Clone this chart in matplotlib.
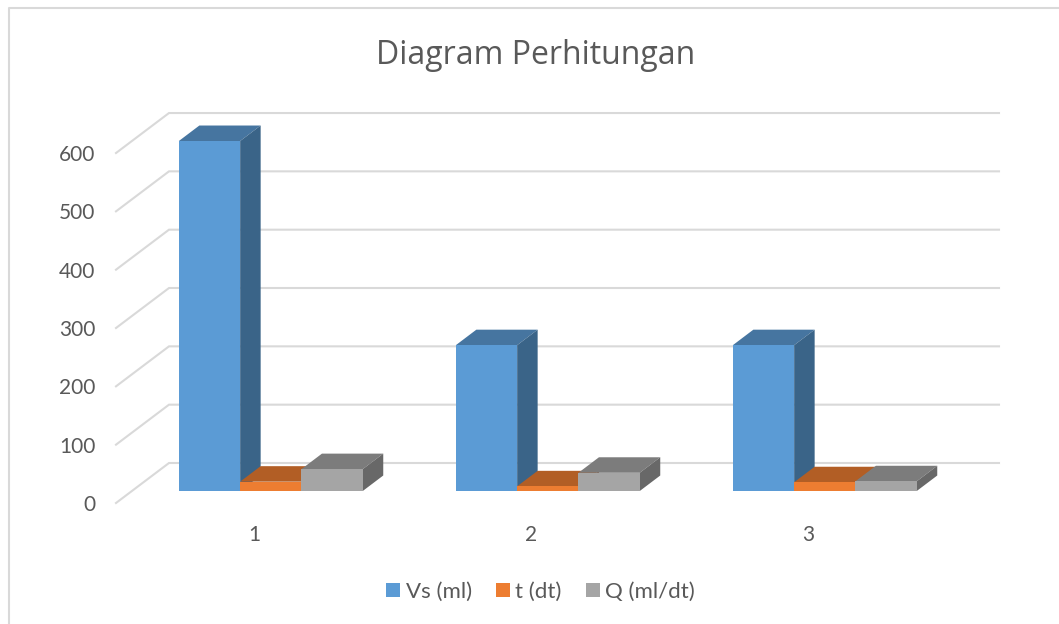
import matplotlib
matplotlib.use('Agg')
import matplotlib.pyplot as plt
from matplotlib.lines import Line2D
from matplotlib.patches import Patch, Polygon

plt.rcParams['font.family'] = ['Lato', 'DejaVu Sans']

# Data
categories = ['1', '2', '3']
vs_ml = [600, 250, 250]
t_dt = [16, 8, 15]
q_ml_dt = [37.5, 31.25, 16.67]
y_ticks = [0, 100, 200, 300, 400, 500, 600]
series_names = ['Vs (ml)', 't (dt)', 'Q (ml/dt)']

front_colors = ['#5B9BD5', '#ED7D31', '#A5A5A5']
top_colors = ['#4675A0', '#B25E25', '#7C7C7C']
side_colors = ['#3A6488', '#8E4B1F', '#686868']
grid_color = '#D9D9D9'
text_color = '#595959'

W, H = 1059, 624
fig = plt.figure(figsize=(W / 100, H / 100), dpi=100)
ax = fig.add_axes([0, 0, 1, 1])

# one category step is 277 px, one y unit is 0.5833 px
px_x = 1 / 277
px_y = 1 / 0.5833
ax.set_xlim(-270.8 * px_x, (W - 270.8) * px_x)
ax.set_ylim(-(H - 491) * px_y, 491 * px_y)
ax.axis('off')

bar_w = 61.3 * px_x
depth_x = 20.5 * px_x
depth_y = 15.5 * px_y

# walls and floor gridlines
wall_left = -101.8 * px_x
wall_right = 728.2 * px_x
front_left = -154.8 * px_x
for v in y_ticks:
    y_back = v + 28 * px_y
    y_front = v - 12 * px_y
    ax.plot([front_left, wall_left, wall_right], [y_front, y_back, y_back],
            color=grid_color, lw=1.5, zorder=1, solid_joinstyle='miter')
    ax.text(-175.3 * px_x, v - 14 * px_y, str(v), ha='right', va='center',
            fontsize=15, color=text_color)

# bars, left to right so the next one covers the side of the previous one
series = [vs_ml, t_dt, q_ml_dt]
z = 2
for i in range(len(categories)):
    for j, vals in enumerate(series):
        v = vals[i]
        x0 = i + (j - 1.5) * bar_w
        x1 = x0 + bar_w
        top = [(x0, v), (x0 + depth_x, v + depth_y), (x1 + depth_x, v + depth_y), (x1, v)]
        side = [(x1, 0), (x1, v), (x1 + depth_x, v + depth_y), (x1 + depth_x, depth_y)]
        front = [(x0, 0), (x0, v), (x1, v), (x1, 0)]
        ax.add_patch(Polygon(top, fc=top_colors[j], ec='none', zorder=z))
        ax.add_patch(Polygon(side, fc=side_colors[j], ec='none', zorder=z))
        ax.add_patch(Polygon(front, fc=front_colors[j], ec='none', zorder=z))
        z += 1

for i, c in enumerate(categories):
    ax.text(i - 16.5 * px_x, -44 * px_y, c, ha='center', va='center',
            fontsize=15, color=text_color)

fig.text(536 / W, 1 - 55 / H, 'Diagram Perhitungan', ha='center', va='center',
         fontsize=23, color=text_color, family=['Open Sans', 'DejaVu Sans'])

handles = [Patch(fc=c, ec='none') for c in front_colors]
fig.legend(handles, series_names, ncol=3, frameon=False, loc='center',
           bbox_to_anchor=(540.5 / W, 1 - 592 / H), fontsize=16,
           labelcolor=text_color, handlelength=0.63, handleheight=0.63,
           handletextpad=0.24, columnspacing=1.08, borderpad=0, borderaxespad=0)

# chart frame, only top and left show in the crop
fig.add_artist(Line2D([8.5 / W, 8.5 / W, 1], [0, 1 - 8 / H, 1 - 8 / H],
                      color=grid_color, lw=1.5, transform=fig.transFigure))

fig.savefig('out.png', dpi=100)
